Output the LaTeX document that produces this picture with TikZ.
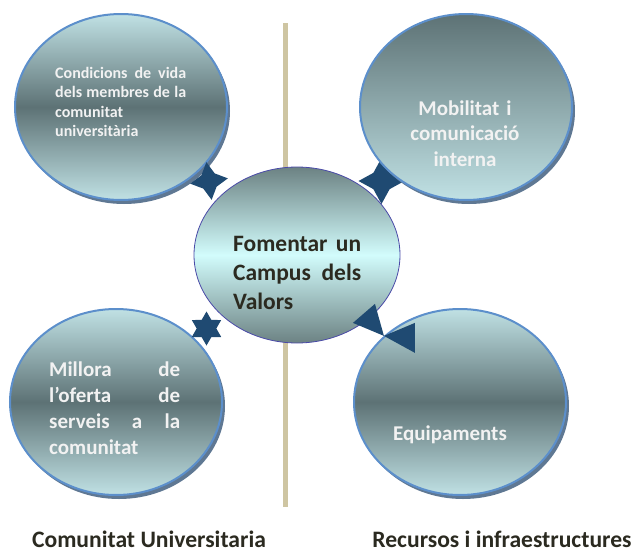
\documentclass[tikz,border=0pt]{standalone}
\usepackage{fontspec}
\setmainfont{Carlito}[BoldFont={Carlito Bold}]
\usetikzlibrary{shapes.geometric,calc,shadows}
\definecolor{elLight}{HTML}{C0E1E4}
\definecolor{elDark}{HTML}{5D7275}
\definecolor{ctLight}{HTML}{D2FCFC}
\definecolor{ctDark}{HTML}{6C8283}
\definecolor{elBorder}{HTML}{5C8FCB}
\definecolor{elShadow}{HTML}{5F7893}
\definecolor{navy}{HTML}{1F4A72}
\definecolor{ctBorder}{HTML}{4A4AA8}
\definecolor{lightText}{HTML}{F2F2F2}
\definecolor{darkText}{HTML}{2B2A20}
\definecolor{dividerCol}{HTML}{CEC5A2}
\newcommand\jline[2]{\leavevmode\hbox to #1{#2}}
\begin{document}
\begin{tikzpicture}[x=1pt,y=-1pt,
  bubble/.style={ellipse, minimum width=212pt, minimum height=186pt, inner sep=0pt,
    draw=elBorder, line width=2pt,
    general shadow={fill=elShadow, shadow xshift=3pt, shadow yshift=-4pt}},
  vbubble/.style={bubble, top color=elLight, bottom color=elLight, middle color=elDark},
  dbubble/.style={bubble, top color=elDark, bottom color=elLight},
  centre/.style={ellipse, minimum width=206pt, minimum height=176pt, inner sep=0pt,
    draw=ctBorder, line width=0.8pt,
    top color=ctDark, bottom color=ctDark, middle color=ctLight},
  star4/.style={star, star points=4, star point ratio=2.0, inner sep=0pt, fill=navy},
  star6/.style={star, star points=6, star point ratio=1.73, inner sep=0pt, fill=navy},
  lighttxt/.style={inner sep=0pt, text=lightText},
  darktxt/.style={inner sep=0pt, text=darkText},
  divider/.style={draw=dividerCol, line width=5.5pt}
]
\useasboundingbox (0,0) rectangle (638,552);

% centres
\coordinate (ptl) at (121,107);
\coordinate (ptr) at (466,107);
\coordinate (pbl) at (116,402);
\coordinate (pbr) at (460,402);
\coordinate (pc)  at (297,255);

% divider line
\coordinate (dtop) at (285.5,23);
\coordinate (dbot) at (285.5,507);
\draw[divider] (dtop) -- (dbot);

% star beneath bubbles
\node[star4, minimum size=46pt] (str) at ($(ptr)!0.5!(pc)$) {};

% outer bubbles
\node[vbubble] (tl) at (ptl) {};
\node[dbubble] (tr) at (ptr) {};
\node[vbubble] (bl) at (pbl) {};
\node[vbubble] (br) at (pbr) {};

% stars over outer bubbles
\node[star4, minimum size=38pt, rotate=8] (stl) at ($(ptl)!0.5!(pc)$) {};
\node[star6, minimum size=34pt] (sbl) at ($(pbl)!0.5!(pc)$) {};

% central bubble
\node[centre] (c) at (pc) {};

% arrowheads
\coordinate (P) at (br.139);
\fill[navy] (P) -- ++(-31,-13) -- ++(22,-19) -- cycle;
\fill[navy] (P) -- ++(31,-13) -- ++(0,30) -- cycle;

% texts
\node[lighttxt, anchor=base west, text width=131pt,
  font=\bfseries\fontsize{16}{19.6}\selectfont] (tlt) at (55,78)
  {\jline{131pt}{Condicions\hfill de\hfill vida}\\
   \jline{131pt}{dels\hfill membres\hfill de\hfill la}\\
   comunitat\\
   universitària};
\node[lighttxt, anchor=base, text width=160pt, align=center,
  font=\bfseries\fontsize{21}{25.8}\selectfont] (trt) at (465,115)
  {Mobilitat i\\comunicació\\interna};
\node[lighttxt, anchor=base west, text width=131pt,
  font=\bfseries\fontsize{21}{25.9}\selectfont] (blt) at (49,376.5)
  {\jline{131pt}{Millora\hfill de}\\
   \jline{131pt}{l’oferta\hfill de}\\
   \jline{131pt}{serveis\hfill a\hfill la}\\
   comunitat};
\node[lighttxt, anchor=base, font=\bfseries\fontsize{21}{25.9}\selectfont] (brt) at (450,440.5)
  {Equipaments};
\node[darktxt, anchor=base west, text width=128pt,
  font=\bfseries\fontsize{23.5}{29}\selectfont] (ct) at (233,251)
  {\jline{128pt}{Fomentar\hfill un}\\
   \jline{128pt}{Campus\hfill dels}\\
   Valors};

% bottom labels
\node[darktxt, anchor=base, text depth=0pt, font=\bfseries\fontsize{23.6}{28}\selectfont] (lab1) at (149,547.5)
  {Comunitat Universitaria};
\node[darktxt, anchor=base, text depth=0pt, font=\bfseries\fontsize{23.6}{28}\selectfont] (lab2) at (502,547.5)
  {Recursos i infraestructures};
\end{tikzpicture}
\end{document}
